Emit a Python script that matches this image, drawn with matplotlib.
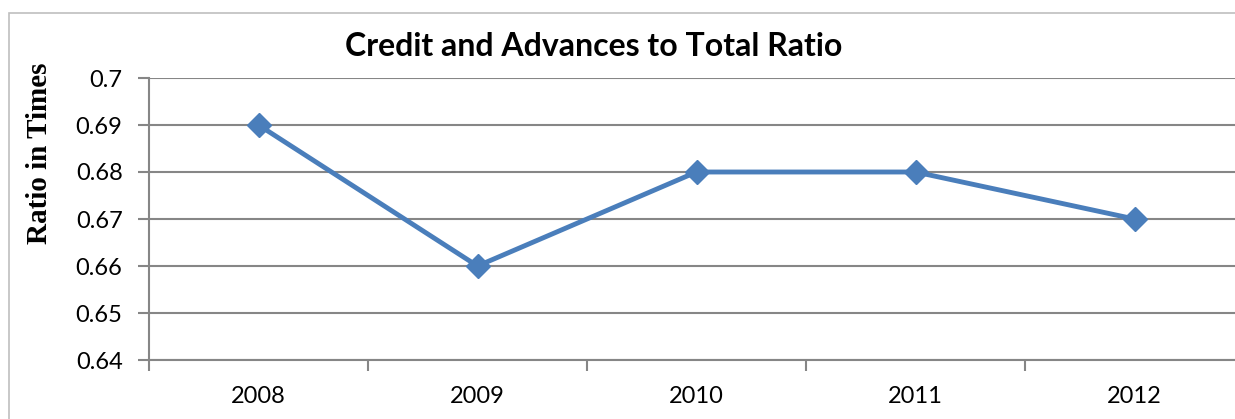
import numpy as np
import matplotlib.pyplot as plt
from matplotlib.patches import Rectangle

# dados do grafico
anos = ['2008', '2009', '2010', '2011', '2012']
razao = [0.69, 0.66, 0.68, 0.68, 0.67]
y_ticks = [0.64, 0.65, 0.66, 0.67, 0.68, 0.69, 0.7]
y_labels = ['0.64', '0.65', '0.66', '0.67', '0.68', '0.69', '0.7']

W, H = 1235, 419
fig = plt.figure(figsize=(W / 100, H / 100), dpi=100)

# borda externa do grafico (cortada a direita e embaixo)
fig.patches.append(Rectangle((9 / W, -0.1), 1.2, (H - 13) / H + 0.1,
                             transform=fig.transFigure, fill=False,
                             edgecolor='#BFBFBF', linewidth=1.2))

ax = fig.add_axes([149 / W, (H - 360) / H, 1095 / W, 282 / H])
x = np.arange(len(anos))
ax.plot(x, razao, color='#4A7EBB', linewidth=3.5, marker='D', markersize=12,
        markerfacecolor='#4A7EBB', markeredgecolor='#4A7EBB', clip_on=False)

ax.set_xlim(-0.5, len(anos) - 0.5)
ax.set_ylim(0.64, 0.7)
ax.set_yticks(y_ticks)
ax.set_yticklabels(y_labels, fontsize=17, family='Lato')
ax.set_xticks(x)
ax.set_xticklabels(anos, fontsize=17, family='Lato')
ax.set_xticks(np.arange(-0.5, len(anos), 1), minor=True)
ax.tick_params(axis='x', which='major', length=0, pad=19)
ax.tick_params(axis='x', which='minor', length=8, width=1.5, color='#868686', direction='out')
ax.tick_params(axis='y', length=8, width=1.5, color='#868686', direction='out', pad=11)

ax.grid(axis='y', color='#868686', linewidth=1.5)
ax.set_axisbelow(True)
for s in ['top', 'right']:
    ax.spines[s].set_visible(False)
ax.spines['left'].set_color('#868686')
ax.spines['left'].set_linewidth(1.5)
ax.spines['bottom'].set_color('#868686')
ax.spines['bottom'].set_linewidth(1.5)

fig.text(594 / W, 1 - 47 / H, 'Credit and Advances to Total Ratio', ha='center', va='center',
         fontsize=23, fontweight='bold', family='Lato')
fig.text(40 / W, 1 - 153 / H, 'Ratio in Times', ha='center', va='center', rotation=90,
         fontsize=21, fontweight='bold', family='Liberation Serif')

fig.savefig('out.png', dpi=100)
